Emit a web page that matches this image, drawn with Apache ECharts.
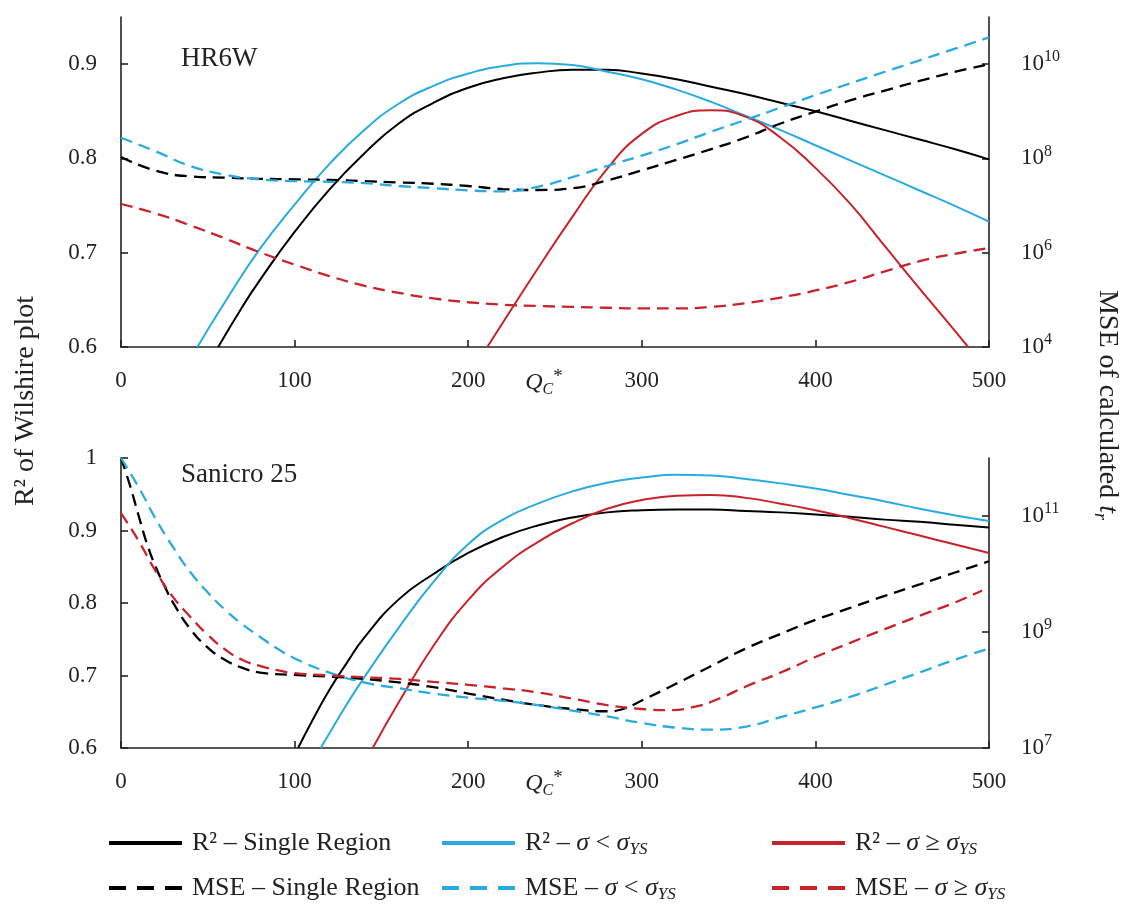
<!DOCTYPE html>
<html>
<head>
<meta charset="utf-8">
<script src="https://cdn.jsdelivr.net/npm/echarts@6/dist/echarts.min.js"></script>
<style>
  html, body { margin: 0; padding: 0; background: #fff; }
  #chart { width: 1123px; height: 905px; }
</style>
</head>
<body>
<div id="chart"></div>
<script>
// ---- axis ticks ----
const qTicks = [0, 100, 200, 300, 400, 500];
const r2TicksTop = [0.6, 0.7, 0.8, 0.9];
const r2TicksBottom = [0.6, 0.7, 0.8, 0.9, 1];
const mseTicksTop = [1e4, 1e6, 1e8, 1e10];
const mseTicksBottom = [1e7, 1e9, 1e11];

// ---- HR6W: [Q_C*, R²] ----
const hrR2Single = [[56,0.600],[70,0.643],[80,0.671],[100,0.722],[120,0.767],[140,0.805],[160,0.837],[180,0.859],[200,0.875],[220,0.885],[240,0.891],[260,0.894],[280,0.894],[300,0.890],[320,0.884],[340,0.876],[360,0.868],[380,0.859],[400,0.850],[420,0.840],[440,0.830],[460,0.820],[480,0.810],[500,0.799]];
const hrR2Low = [[44,0.600],[60,0.648],[80,0.704],[100,0.751],[120,0.794],[140,0.830],[160,0.858],[180,0.877],[200,0.890],[220,0.898],[240,0.901],[260,0.899],[280,0.892],[300,0.884],[320,0.873],[340,0.860],[360,0.845],[380,0.830],[400,0.814],[420,0.798],[440,0.782],[460,0.766],[480,0.750],[500,0.733]];
const hrR2High = [[211,0.600],[220,0.626],[240,0.683],[260,0.738],[280,0.789],[300,0.826],[320,0.845],[340,0.851],[360,0.844],[380,0.822],[400,0.790],[420,0.752],[440,0.707],[460,0.662],[480,0.618],[488,0.600]];

// ---- HR6W: [Q_C*, MSE] ----
const hrMseSingle = [[0,1.07e8],[20,5.5e7],[40,4.17e7],[60,3.9e7],[80,3.7e7],[100,3.6e7],[120,3.5e7],[140,3.3e7],[160,3.1e7],[180,2.9e7],[200,2.6e7],[220,2.24e7],[240,2.14e7],[260,2.34e7],[280,3.4e7],[300,5.6e7],[320,9.3e7],[340,1.58e8],[360,2.8e8],[380,5.5e8],[400,9.8e8],[420,1.7e9],[440,2.75e9],[460,4.4e9],[480,6.8e9],[500,1.0e10]];
const hrMseLow = [[0,2.75e8],[20,1.41e8],[40,6.9e7],[60,4.5e7],[80,3.6e7],[100,3.3e7],[120,3.2e7],[140,3.0e7],[160,2.6e7],[180,2.34e7],[200,2.1e7],[220,2.0e7],[240,2.5e7],[260,4.0e7],[280,6.9e7],[300,1.15e8],[320,2.0e8],[340,3.7e8],[360,6.6e8],[380,1.2e9],[400,2.2e9],[420,3.9e9],[440,6.9e9],[460,1.2e10],[480,2.1e10],[500,3.7e10]];
const hrMseHigh = [[0,1.08e7],[20,6.8e6],[40,3.8e6],[60,2.0e6],[80,1.02e6],[100,5.6e5],[120,3.2e5],[140,2.0e5],[160,1.41e5],[180,1.07e5],[200,8.9e4],[220,7.9e4],[240,7.4e4],[260,7.1e4],[280,6.8e4],[300,6.6e4],[320,6.6e4],[340,7.1e4],[360,8.5e4],[380,1.12e5],[400,1.58e5],[420,2.4e5],[440,4.0e5],[460,6.6e5],[480,9.4e5],[500,1.26e6]];

// ---- Sanicro 25: [Q_C*, R²] ----
const scR2Single = [[102,0.600],[110,0.637],[120,0.680],[130,0.717],[140,0.752],[160,0.805],[180,0.840],[200,0.869],[220,0.891],[240,0.907],[260,0.918],[280,0.925],[300,0.928],[320,0.929],[340,0.929],[360,0.927],[380,0.925],[400,0.922],[420,0.919],[440,0.915],[460,0.912],[480,0.908],[500,0.904]];
const scR2Low = [[115,0.600],[120,0.620],[130,0.660],[140,0.697],[160,0.766],[180,0.829],[200,0.881],[220,0.915],[240,0.937],[260,0.954],[280,0.966],[300,0.973],[320,0.977],[340,0.976],[360,0.971],[380,0.965],[400,0.958],[420,0.949],[440,0.940],[460,0.930],[480,0.921],[500,0.913]];
const scR2High = [[145,0.600],[160,0.663],[180,0.741],[200,0.804],[220,0.850],[240,0.884],[260,0.910],[280,0.930],[300,0.942],[320,0.948],[340,0.949],[360,0.945],[380,0.937],[400,0.928],[420,0.917],[440,0.905],[460,0.893],[480,0.881],[500,0.869]];

// ---- Sanicro 25: [Q_C*, MSE] ----
const scMseSingle = [[0,1.0e12],[5,3.5e11],[10,1.05e11],[15,3.3e10],[20,1.32e10],[25,6.3e9],[30,3.2e9],[40,1.12e9],[50,5.4e8],[60,3.3e8],[70,2.4e8],[80,2.0e8],[100,1.82e8],[120,1.7e8],[140,1.55e8],[160,1.35e8],[180,1.12e8],[200,8.7e7],[220,6.8e7],[240,5.5e7],[260,4.7e7],[280,4.3e7],[290,4.8e7],[300,6.6e7],[320,1.29e8],[340,2.6e8],[360,5.2e8],[380,9.3e8],[400,1.62e9],[420,2.6e9],[440,4.2e9],[460,6.6e9],[480,1.05e10],[500,1.66e10]];
const scMseLow = [[0,1.0e12],[10,3.2e11],[20,8.9e10],[30,2.9e10],[40,1.07e10],[50,4.8e9],[60,2.4e9],[70,1.35e9],[80,8.3e8],[90,5.2e8],[100,3.5e8],[120,2.0e8],[140,1.35e8],[160,1.07e8],[180,8.7e7],[200,7.4e7],[220,6.5e7],[240,5.5e7],[260,4.4e7],[280,3.5e7],[300,2.7e7],[320,2.24e7],[340,2.07e7],[360,2.34e7],[380,3.4e7],[400,5.0e7],[420,7.6e7],[440,1.23e8],[460,2.0e8],[480,3.3e8],[500,5.2e8]];
const scMseHigh = [[0,1.12e11],[10,3.8e10],[20,1.12e10],[30,4.0e9],[40,1.82e9],[50,8.9e8],[60,5.0e8],[70,3.3e8],[80,2.6e8],[90,2.2e8],[100,1.95e8],[120,1.78e8],[140,1.66e8],[160,1.55e8],[180,1.38e8],[200,1.23e8],[220,1.07e8],[240,9.1e7],[260,7.1e7],[280,5.5e7],[300,4.7e7],[315,4.5e7],[330,5.1e7],[345,7.2e7],[360,1.15e8],[380,2.0e8],[400,3.7e8],[420,6.5e8],[440,1.12e9],[460,1.9e9],[480,3.2e9],[496,5.2e9]];

// ---- legend names ----
const NAME_R2_SINGLE = 'R² – Single Region';
const NAME_MSE_SINGLE = 'MSE – Single Region';
const NAME_R2_LOW = 'R² – σ < σYS';
const NAME_MSE_LOW = 'MSE – σ < σYS';
const NAME_R2_HIGH = 'R² – σ ≥ σYS';
const NAME_MSE_HIGH = 'MSE – σ ≥ σYS';

const FONT = "'Liberation Serif', 'Times New Roman', serif";
const AXIS = '#222';
const BLACK = '#000000';
const BLUE = '#29abe2';
const RED = '#c8222b';
const DASH = [12, 7];

const chart = echarts.init(document.getElementById('chart'), null, { renderer: 'canvas' });

function xAxis(gridIndex) {
  return {
    type: 'value', gridIndex, min: 0, max: 500, interval: 100,
    axisLine: { show: true, onZero: false, lineStyle: { color: AXIS, width: 1.6 } },
    axisTick: { show: true, inside: true, length: 7, lineStyle: { color: AXIS, width: 1.6 } },
    axisLabel: { color: '#222', fontFamily: FONT, fontSize: 23, margin: 22, customValues: qTicks },
    splitLine: { show: false },
    name: '{q|Q}{c|C}{s|*}',
    nameLocation: 'middle',
    nameGap: 21,
    nameMoveOverlap: false,
    nameTextStyle: {
      padding: [0, 22, 0, 0],
      rich: {
        q: { fontFamily: FONT, fontSize: 24, fontStyle: 'italic', color: '#222', lineHeight: 30, verticalAlign: 'middle' },
        c: { fontFamily: FONT, fontSize: 16, fontStyle: 'italic', color: '#222', lineHeight: 14, verticalAlign: 'bottom' },
        s: { fontFamily: FONT, fontSize: 19, color: '#222', lineHeight: 20, verticalAlign: 'top' }
      }
    }
  };
}

function r2Axis(gridIndex, max, ticks) {
  return {
    type: 'value', gridIndex, min: 0.6, max, position: 'left',
    axisLine: { show: true, onZero: false, lineStyle: { color: AXIS, width: 1.6 } },
    axisTick: { show: true, inside: true, length: 7, customValues: ticks, lineStyle: { color: AXIS, width: 1.6 } },
    axisLabel: { color: '#222', fontFamily: FONT, fontSize: 23, margin: 24, customValues: ticks,
      formatter: v => String(Math.round(v * 100) / 100) },
    splitLine: { show: false }
  };
}

function mseAxis(gridIndex, min, max, ticks) {
  return {
    type: 'log', logBase: 10, gridIndex, min, max, position: 'right',
    axisLine: { show: true, onZero: false, lineStyle: { color: AXIS, width: 1.6 } },
    axisTick: { show: true, inside: true, length: 7, customValues: ticks, lineStyle: { color: AXIS, width: 1.6 } },
    axisLabel: {
      color: '#222', fontFamily: FONT, fontSize: 23, margin: 32, customValues: ticks, lineHeight: 30,
      formatter: v => '{base|10}{sup|' + Math.round(Math.log10(v)) + '}',
      rich: {
        base: { fontFamily: FONT, fontSize: 23, color: '#222', lineHeight: 30 },
        sup: { fontFamily: FONT, fontSize: 16, color: '#222', verticalAlign: 'top', lineHeight: 16 }
      }
    },
    splitLine: { show: false },
    minorSplitLine: { show: false }
  };
}

function line(name, data, xAxisIndex, yAxisIndex, color, dashed) {
  return {
    type: 'line', name, data, xAxisIndex, yAxisIndex,
    smooth: 0.5, symbol: 'none', showSymbol: false, clip: true,
    lineStyle: { color, width: dashed ? 2.3 : 2, type: dashed ? DASH : 'solid' },
    itemStyle: { color },
    emphasis: { disabled: true },
    silent: true
  };
}

const legendText = {};
legendText[NAME_R2_SINGLE] = 'R² – Single Region';
legendText[NAME_MSE_SINGLE] = 'MSE – Single Region';
legendText[NAME_R2_LOW] = 'R² – {i|σ} < {i|σ}{sub|YS}';
legendText[NAME_MSE_LOW] = 'MSE – {i|σ} < {i|σ}{sub|YS}';
legendText[NAME_R2_HIGH] = 'R² – {i|σ} ≥ {i|σ}{sub|YS}';
legendText[NAME_MSE_HIGH] = 'MSE – {i|σ} ≥ {i|σ}{sub|YS}';

// one legend per entry, laid out as a 3 x 2 table
function legendItem(name, left, top, dashed) {
  return {
    orient: 'horizontal', left, top, padding: 0,
    itemWidth: 73, itemHeight: 14, itemGap: 10,
    selectedMode: false,
    itemStyle: { opacity: 0 },
    data: [{ name, lineStyle: dashed ? { width: 4, type: [17, 11] } : { width: 4 } }],
    formatter: n => legendText[n],
    textStyle: {
      fontFamily: FONT, fontSize: 26, color: '#222', lineHeight: 30, padding: [0, 0, 0, 5],
      rich: {
        i: { fontFamily: FONT, fontSize: 26, fontStyle: 'italic', color: '#222', lineHeight: 30 },
        sub: { fontFamily: FONT, fontSize: 17, fontStyle: 'italic', color: '#222', lineHeight: 14, verticalAlign: 'bottom' }
      }
    }
  };
}

const option = {
  backgroundColor: '#ffffff',
  animation: false,
  title: [
    { text: 'HR6W', left: 176, top: 40, textStyle: { fontFamily: FONT, fontSize: 27, fontWeight: 'normal', color: '#222' } },
    { text: 'Sanicro 25', left: 176, top: 456, textStyle: { fontFamily: FONT, fontSize: 27, fontWeight: 'normal', color: '#222' } }
  ],
  grid: [
    { left: 121, top: 17, width: 868, height: 330, containLabel: false },
    { left: 121, top: 458, width: 868, height: 290, containLabel: false }
  ],
  xAxis: [xAxis(0), xAxis(1)],
  yAxis: [
    r2Axis(0, 0.95, r2TicksTop),
    mseAxis(0, 1e4, 1e11, mseTicksTop),
    r2Axis(1, 1, r2TicksBottom),
    mseAxis(1, 1e7, 1e12, mseTicksBottom)
  ],
  legend: [
    legendItem(NAME_R2_SINGLE, 107, 828, false),
    legendItem(NAME_MSE_SINGLE, 107, 873, true),
    legendItem(NAME_R2_LOW, 440, 828, false),
    legendItem(NAME_MSE_LOW, 440, 873, true),
    legendItem(NAME_R2_HIGH, 770, 828, false),
    legendItem(NAME_MSE_HIGH, 770, 873, true)
  ],
  graphic: [
    {
      type: 'text', x: 26, y: 401, rotation: Math.PI / 2,
      style: {
        text: 'R² of Wilshire plot', fill: '#222', font: "28px 'Liberation Serif', serif",
        textAlign: 'center', textVerticalAlign: 'middle', align: 'center', verticalAlign: 'middle'
      }
    },
    {
      type: 'text', x: 1107, y: 405, rotation: -Math.PI / 2,
      style: {
        text: 'MSE of calculated {t|t}{r|r}', fill: '#222', font: "28px 'Liberation Serif', serif",
        textAlign: 'center', textVerticalAlign: 'middle', align: 'center', verticalAlign: 'middle',
        lineHeight: 32,
        rich: {
          t: { fontFamily: FONT, fontSize: 28, fontStyle: 'italic', fill: '#222', lineHeight: 32 },
          r: { fontFamily: FONT, fontSize: 18, fontStyle: 'italic', fill: '#222', lineHeight: 14, verticalAlign: 'bottom' }
        }
      }
    }
  ],
  series: [
    line(NAME_R2_SINGLE, hrR2Single, 0, 0, BLACK, false),
    line(NAME_R2_LOW, hrR2Low, 0, 0, BLUE, false),
    line(NAME_R2_HIGH, hrR2High, 0, 0, RED, false),
    line(NAME_MSE_SINGLE, hrMseSingle, 0, 1, BLACK, true),
    line(NAME_MSE_LOW, hrMseLow, 0, 1, BLUE, true),
    line(NAME_MSE_HIGH, hrMseHigh, 0, 1, RED, true),
    line(NAME_R2_SINGLE, scR2Single, 1, 2, BLACK, false),
    line(NAME_R2_LOW, scR2Low, 1, 2, BLUE, false),
    line(NAME_R2_HIGH, scR2High, 1, 2, RED, false),
    line(NAME_MSE_SINGLE, scMseSingle, 1, 3, BLACK, true),
    line(NAME_MSE_LOW, scMseLow, 1, 3, BLUE, true),
    line(NAME_MSE_HIGH, scMseHigh, 1, 3, RED, true)
  ]
};

chart.setOption(option);
</script>
</body>
</html>
